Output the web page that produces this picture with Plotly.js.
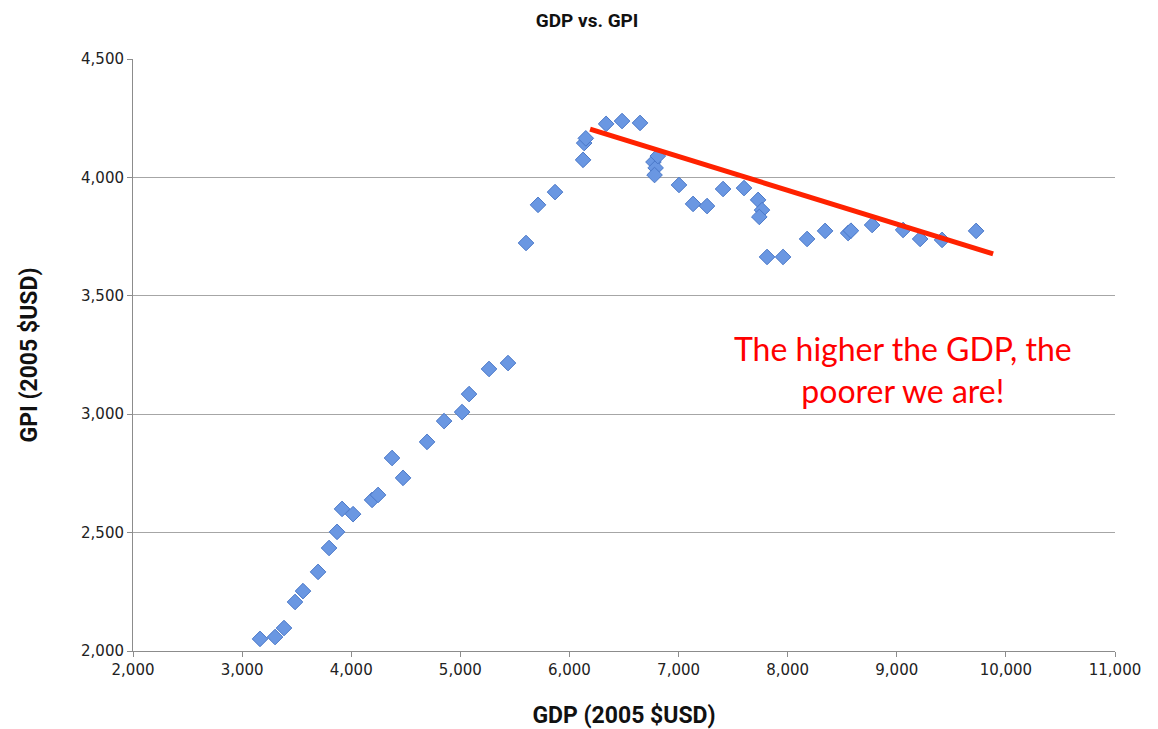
<!DOCTYPE html>
<html>
<head>
<meta charset="utf-8">
<script src="https://cdn.plot.ly/plotly-3.0.1.min.js"></script>
<style>html,body{margin:0;padding:0;background:#fff;}#chart{width:1158px;height:729px;}</style>
</head>
<body>
<div id="chart"></div>
<script>
const gdp = [3164, 3302, 3384, 3485, 3558, 3696, 3797, 3870, 3916, 4017, 4191, 4246, 4374, 4475, 4695, 4851, 5016, 5080, 5263, 5437,
             5602, 5712, 5868, 6125, 6135, 6150, 6336, 6482, 6647, 6770, 6790, 6780, 6810, 7004, 7133, 7261, 7408, 7600, 7729, 7765,
             7740, 7811, 7958, 8178, 8343, 8554, 8580, 8774, 9058, 9214, 9415, 9727];
const gpi = [2051, 2059, 2097, 2207, 2253, 2334, 2435, 2503, 2600, 2578, 2638, 2659, 2815, 2731, 2883, 2971, 3009, 3085, 3191, 3216,
             3723, 3884, 3938, 4074, 4145, 4165, 4226, 4238, 4230, 4065, 4040, 4010, 4090, 3968, 3888, 3879, 3951, 3955, 3905, 3862,
             3833, 3664, 3664, 3740, 3774, 3765, 3775, 3799, 3778, 3740, 3736, 3774];
const trendX = [6189, 9883];
const trendY = [4204, 3677];
const xTicks = [2000, 3000, 4000, 5000, 6000, 7000, 8000, 9000, 10000, 11000];
const yTicks = [2000, 2500, 3000, 3500, 4000, 4500];
const titleText = "GDP vs. GPI";
const xTitle = "GDP (2005 $USD)";
const yTitle = "GPI (2005 $USD)";
const noteText = "The higher the GDP, the<br>poorer we are!";

const fmt = v => v.toLocaleString('en-US');

const traces = [
  {
    x: gdp, y: gpi, type: 'scatter', mode: 'markers',
    marker: {symbol: 'diamond', size: 12, color: '#6a97e2', line: {color: '#4a78c8', width: 1}},
    hoverinfo: 'x+y'
  },
  {
    x: trendX, y: trendY, type: 'scatter', mode: 'lines',
    line: {color: '#ff2200', width: 5}, hoverinfo: 'skip'
  }
];

const layout = {
  width: 1158, height: 729,
  margin: {l: 133, r: 43, t: 59, b: 78},
  paper_bgcolor: '#ffffff', plot_bgcolor: '#ffffff',
  showlegend: false,
  title: {text: '<b>' + titleText + '</b>', x: 0.507, xanchor: 'center', y: 0.972, yanchor: 'middle',
          font: {family: 'Roboto, sans-serif', size: 19, color: '#111'}},
  xaxis: {
    range: [2000, 11000], tickvals: xTicks, ticktext: xTicks.map(fmt),
    showgrid: false, zeroline: false, showline: true, linecolor: '#8c8c8c', linewidth: 1,
    ticks: 'outside', ticklen: 5, tickcolor: '#8c8c8c',
    tickfont: {family: 'DejaVu Sans, sans-serif', size: 15, color: '#222'},
    title: {text: '<b>' + xTitle + '</b>', standoff: 28, font: {family: 'Roboto, sans-serif', size: 23, color: '#111'}}
  },
  yaxis: {
    range: [2000, 4500], tickvals: yTicks, ticktext: yTicks.map(fmt),
    showgrid: true, gridcolor: '#a6a6a6', gridwidth: 1, zeroline: false,
    showline: true, linecolor: '#8c8c8c', linewidth: 1,
    ticks: 'outside', ticklen: 5, tickcolor: '#8c8c8c',
    tickfont: {family: 'DejaVu Sans, sans-serif', size: 15, color: '#222'},
    title: {text: '<b>' + yTitle + '</b>', standoff: 36, font: {family: 'Roboto, sans-serif', size: 23, color: '#111'}}
  },
  annotations: [
    {x: 9058, y: 3187, xref: 'x', yref: 'y', text: noteText, showarrow: false, align: 'center',
     font: {family: 'Lato, sans-serif', size: 32, color: '#ff0000'}}
  ]
};

Plotly.newPlot('chart', traces, layout, {displayModeBar: false, staticPlot: true});
</script>
</body>
</html>
